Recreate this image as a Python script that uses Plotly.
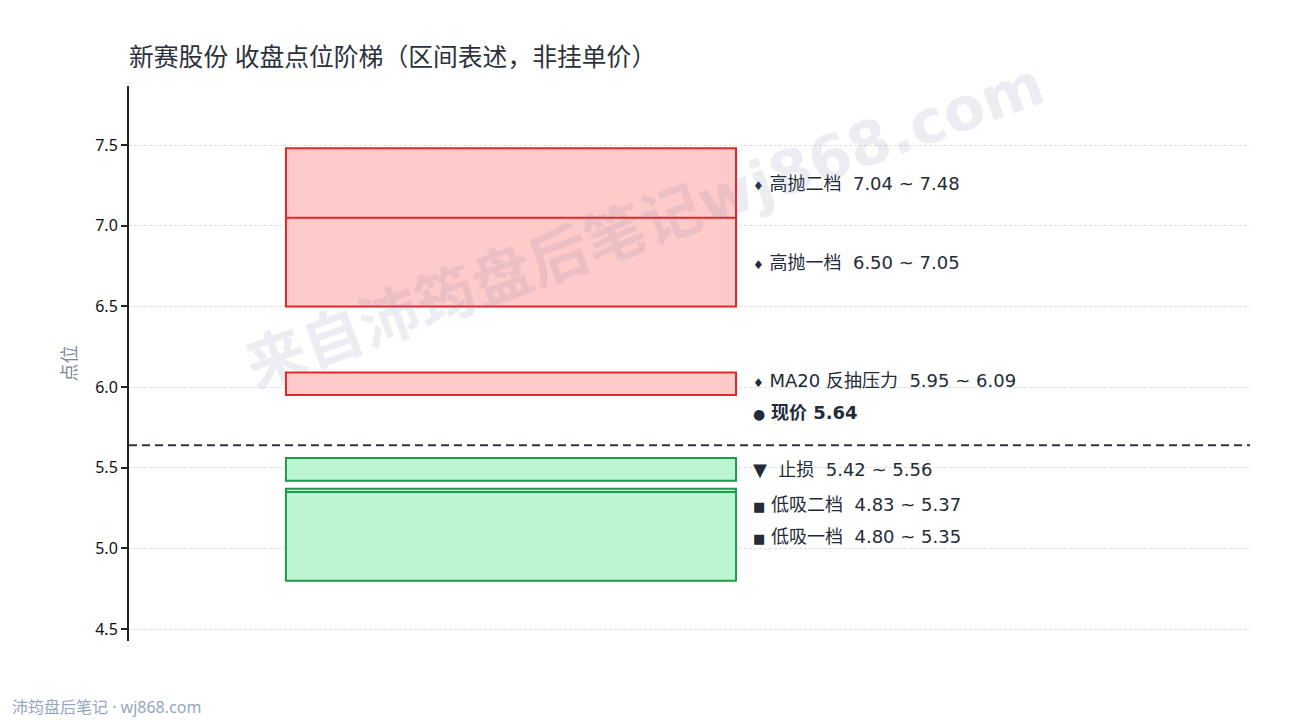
import plotly.graph_objects as go

# 区间数据
zone_names = ["高抛二档", "高抛一档", "MA20 反抽压力", "止损", "低吸二档", "低吸一档"]
zone_low = [7.04, 6.50, 5.95, 5.42, 4.83, 4.80]
zone_high = [7.48, 7.05, 6.09, 5.56, 5.37, 5.35]
zone_kind = ["sell", "sell", "sell", "stop", "buy", "buy"]
price_now = 5.64
y_ticks = [4.5, 5.0, 5.5, 6.0, 6.5, 7.0, 7.5]

FONT = "Noto Sans, Noto Sans CJK SC"
LABEL_FONT = "DejaVu Sans, Noto Sans CJK SC"
RED_FILL, RED_EDGE = "#ffcaca", "#e0282c"
GRN_FILL, GRN_EDGE = "#bbf5d2", "#1f9a4c"
TXT = "#232b38"

fig = go.Figure()
# 一个空散点撑起坐标轴
fig.add_trace(go.Scatter(x=[0, 1], y=[y_ticks[0], y_ticks[-1]], mode="markers",
                         marker=dict(opacity=0), hoverinfo="skip", showlegend=False))

for lo, hi, kind in zip(zone_low, zone_high, zone_kind):
    red = kind == "sell"
    fig.add_shape(type="rect", xref="x", yref="y", x0=0.14, x1=0.5415, y0=lo, y1=hi,
                  fillcolor=RED_FILL if red else GRN_FILL,
                  line=dict(color=RED_EDGE if red else GRN_EDGE, width=2), layer="above")

fig.add_shape(type="line", xref="paper", yref="y", x0=0, x1=1, y0=price_now, y1=price_now,
              line=dict(color="#2f3540", width=2, dash="8px,5px"))

# 标签位置：区间中点，自下而上避让
labels = []
for name, lo, hi, kind in zip(zone_names, zone_low, zone_high, zone_kind):
    if kind == "sell":
        mk = "<span style='font-size:12px'>♦</span> "
    elif kind == "stop":
        mk = "▼  "
    else:
        mk = "<span style='font-size:13px'>■</span> "
    labels.append(((lo + hi) / 2, f"{mk}{name}  {lo:.2f} ~ {hi:.2f}"))
labels.append((price_now + 0.2, f"<span style='font-size:14px'>●</span> <b>现价 {price_now:.2f}</b>"))
labels.sort(key=lambda t: t[0])
gap = 0.2
placed = []
for yv, txt in labels:
    if placed and yv < placed[-1][0] + gap:
        yv = placed[-1][0] + gap
    placed.append((yv, txt))

for yv, txt in placed:
    fig.add_annotation(x=0.555, y=yv, xref="x", yref="y", text=txt, showarrow=False,
                       xanchor="left", yanchor="middle", font=dict(size=18, color=TXT, family=LABEL_FONT))

# 水印
fig.add_annotation(x=0.46, y=0.75, xref="paper", yref="paper", text="<b>来自沛筠盘后笔记wj868.com</b>",
                   showarrow=False, textangle=-20, xanchor="center", yanchor="middle",
                   font=dict(size=60, color="rgba(120,130,160,0.14)", family=LABEL_FONT))
fig.add_annotation(x=-0.1062, y=-0.119, xref="paper", yref="paper", text="沛筠盘后笔记 · wj868.com",
                   showarrow=False, xanchor="left", yanchor="middle",
                   font=dict(size=16, color="#97a6bf", family=FONT))

fig.update_layout(
    width=1290, height=720,
    margin=dict(l=129, r=40, t=86, b=79),
    paper_bgcolor="white", plot_bgcolor="white",
    font=dict(family=FONT, color=TXT),
    title=dict(text="新赛股份 收盘点位阶梯（区间表述，非挂单价）", x=129 / 1290, xanchor="left",
               y=1 - 57 / 720, yanchor="middle", font=dict(size=24.8, color="#2b313c")),
    xaxis=dict(range=[0, 1], visible=False, showgrid=False, zeroline=False),
    yaxis=dict(range=[4.426, 7.866], tickvals=y_ticks, tickformat=".1f",
               showline=True, linecolor="#222", linewidth=2,
               ticks="outside", ticklen=6, tickwidth=1.5, tickcolor="#222",
               tickfont=dict(size=16, color="#111"),
               showgrid=True, gridcolor="#e0e0e0", griddash="3px,2px", gridwidth=1,
               zeroline=False,
               title=dict(text="点位", font=dict(size=18, color="#7d879a"), standoff=14)),
)

fig.write_html("out.html", config={"displayModeBar": False},
               post_script="document.body.style.margin='0';")
